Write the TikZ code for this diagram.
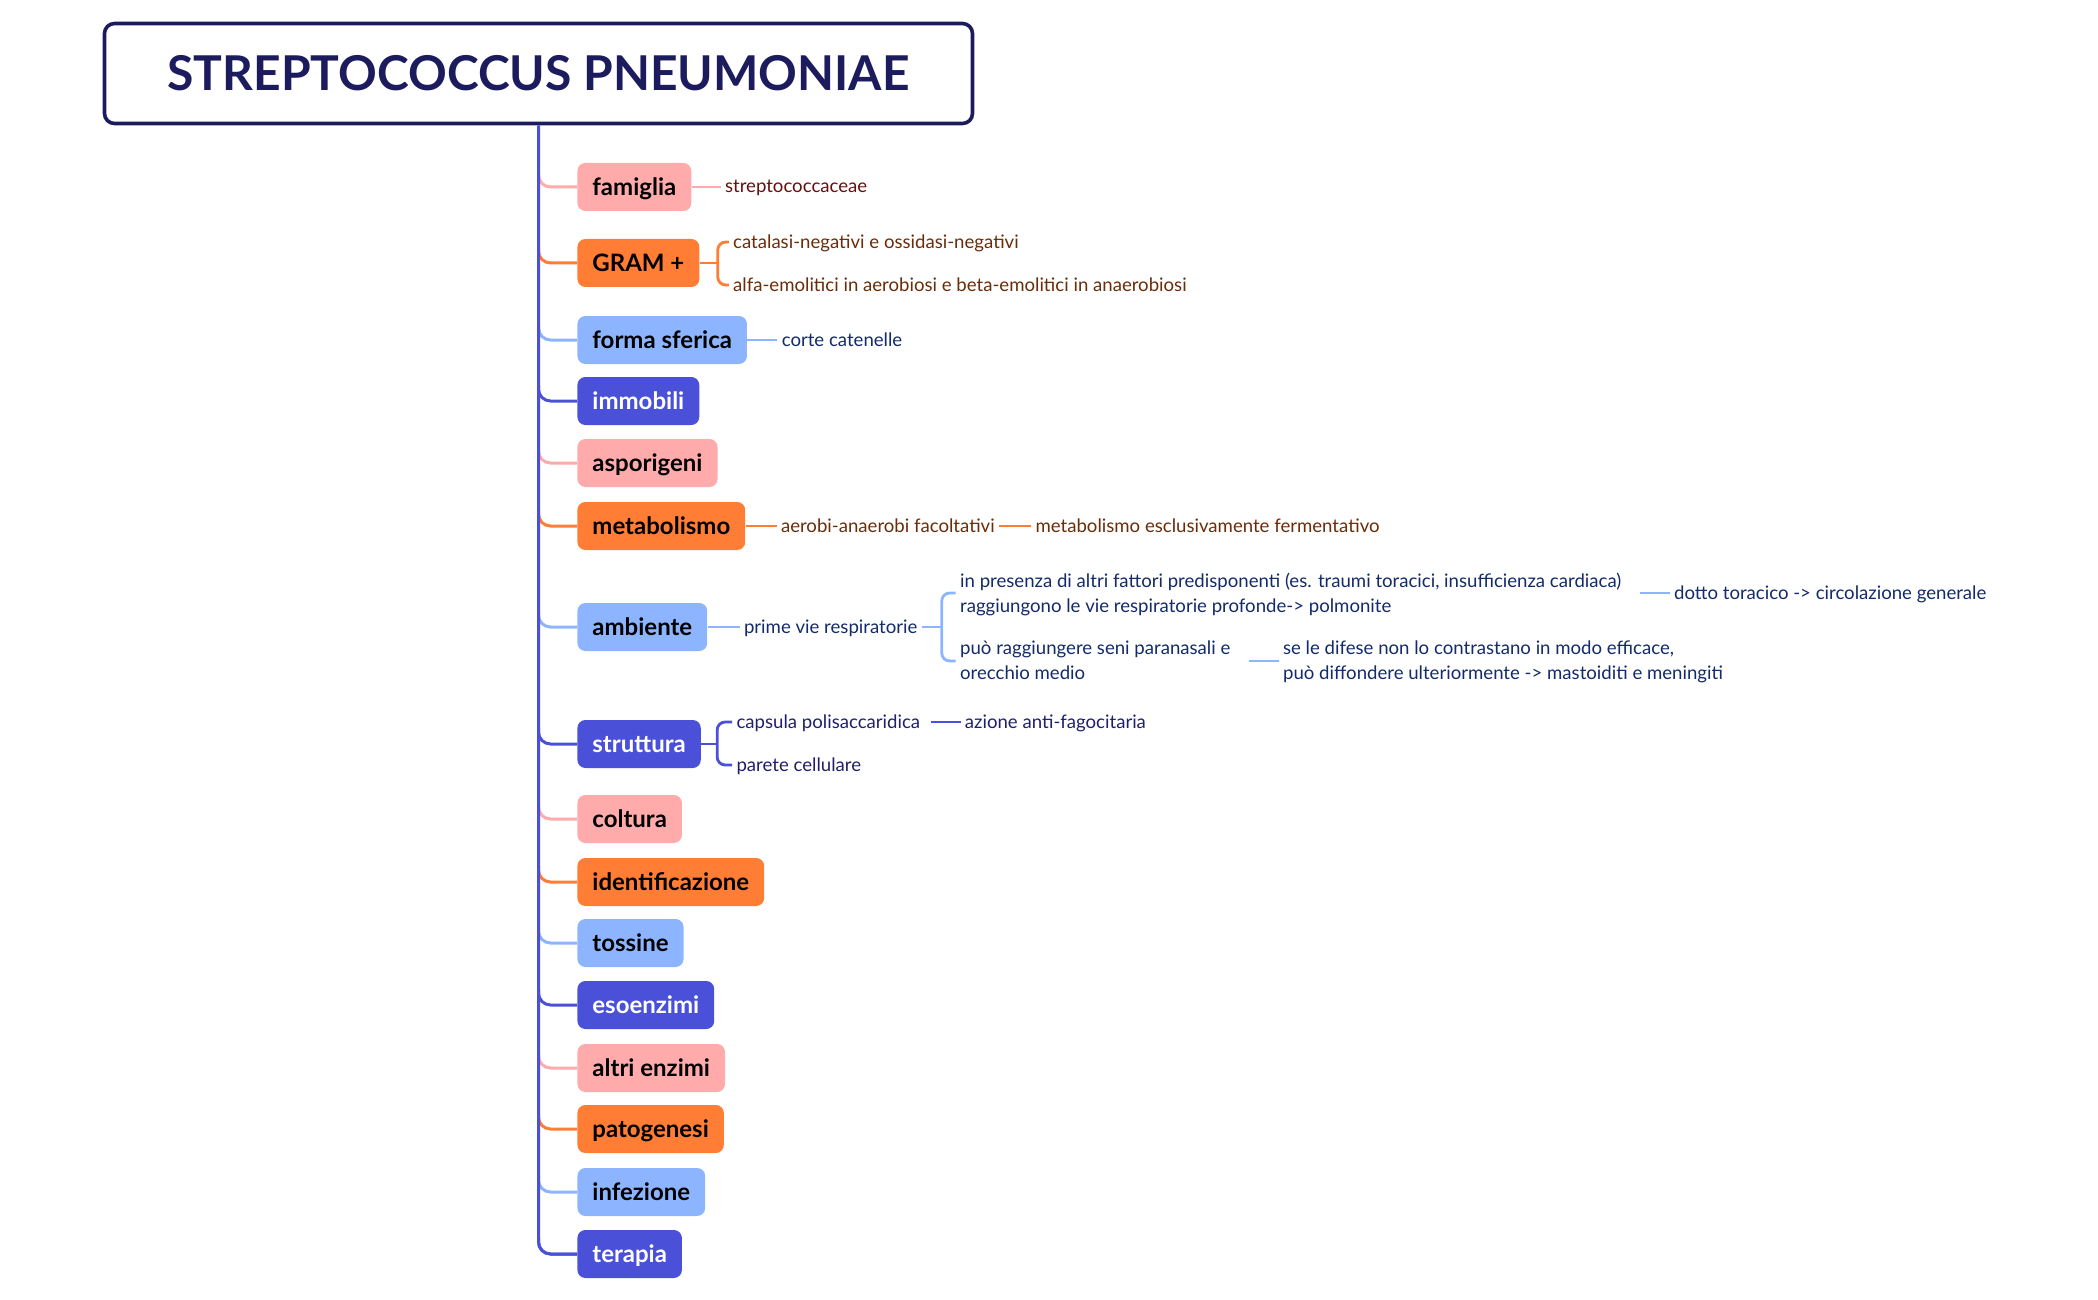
\documentclass[tikz,border=0pt]{standalone}
\usepackage{fontspec}
\setmainfont{Lato}
\usetikzlibrary{positioning}

\definecolor{navyline}{HTML}{1B1B5E}
\definecolor{pinkc}{HTML}{FFABAB}
\definecolor{orangec}{HTML}{FF7D35}
\definecolor{bluec}{HTML}{8DB5FF}
\definecolor{indigoc}{HTML}{4A51D8}
\definecolor{maroon}{HTML}{651010}
\definecolor{rust}{HTML}{6B2C08}
\definecolor{navy}{HTML}{132A6B}
\definecolor{ink}{HTML}{1F1F6B}

\begin{document}
\begin{tikzpicture}[x=0.5pt,y=-0.5pt,
    titlebox/.style={draw=navyline, line width=1.8pt, rounded corners=5pt,
      minimum width=434pt, minimum height=50pt, text=navyline,
      font=\fontsize{24}{28}\selectfont\bfseries},
    topic/.style={fill=#1, rounded corners=4pt, anchor=west, inner xsep=7.5pt,
      minimum height=24pt, text height=10.4pt, text depth=1.6pt,
      font=\fontsize{12}{14}\selectfont\bfseries},
    leaf/.style={text=#1, inner xsep=2pt, inner ysep=1pt, align=left,
      text depth=0.4pt, font=\fontsize{9.3}{12.5}\selectfont},
    branch/.style={draw=#1, line width=1.5pt, rounded corners=6pt},
    twig/.style={draw=#1, line width=1.4pt, rounded corners=4pt}]

  \useasboundingbox (0,0) rectangle (2098,1300);

  \node[titlebox] (title) at (538.5,73.5) {STREPTOCOCCUS PNEUMONIAE};

  % main topics on the trunk
  \foreach \n/\lbl/\col/\tc/\y in {fam/famiglia/pinkc/black/187,
      gram/GRAM +/orangec/black/263, forma/forma sferica/bluec/black/340,
      immob/immobili/indigoc/white/401, aspor/asporigeni/pinkc/black/463,
      metab/metabolismo/orangec/black/526, amb/ambiente/bluec/black/627,
      strut/struttura/indigoc/white/744, colt/coltura/pinkc/black/819,
      ident/identificazione/orangec/black/882, toss/tossine/bluec/black/943,
      esoenz/esoenzimi/indigoc/white/1005, altri/altri enzimi/pinkc/black/1068,
      patog/patogenesi/orangec/black/1129, infez/infezione/bluec/black/1192,
      ter/terapia/indigoc/white/1254}{
    \node[topic=\col, text=\tc] (\n) at (577,\y) {\lbl};
    \draw[branch=\col] (title.south |- \n.west) ++(0,-16) |- (\n.west);
  }
  \draw[branch=indigoc] (title.south) |- (ter.west);

  % famiglia
  \node[leaf=maroon, right=14.5pt of fam] (famA) {streptococcaceae};
  \draw[twig=pinkc] (fam) -- (famA);

  % GRAM +
  \node[leaf=rust, right=14.5pt of gram, yshift=10.5pt] (gramA) {catalasi-negativi e ossidasi-negativi};
  \node[leaf=rust, right=14.5pt of gram, yshift=-11pt] (gramB) {alfa-emolitici in aerobiosi e beta-emolitici in anaerobiosi};
  \draw[twig=orangec] (gram.east) -- ++(9pt,0) coordinate (gramfork);
  \draw[twig=orangec] (gramA.west) -| (gramfork) |- (gramB.west);

  % forma sferica
  \node[leaf=navy, right=15pt of forma] (formaA) {corte catenelle};
  \draw[twig=bluec] (forma) -- (formaA);

  % metabolismo
  \node[leaf=rust, right=15.5pt of metab] (metabA) {aerobi-anaerobi facoltativi};
  \node[leaf=rust, right=16pt of metabA] (metabB) {metabolismo esclusivamente fermentativo};
  \draw[twig=orangec] (metab) -- (metabA);
  \draw[twig=orangec] (metabA) -- (metabB);

  % ambiente
  \node[leaf=navy, right=16pt of amb] (ambA) {prime vie respiratorie};
  \draw[twig=bluec] (amb) -- (ambA);
  \node[leaf=navy, right=17pt of ambA, yshift=17pt] (ambB) {in presenza di altri fattori predisponenti (es. traumi toracici, insufficienza cardiaca)\\raggiungono le vie respiratorie profonde-> polmonite};
  \node[leaf=navy, right=17pt of ambA, yshift=-17pt] (ambC) {può raggiungere seni paranasali e\\orecchio medio};
  \draw[twig=bluec] (ambA.east) -- ++(10pt,0) coordinate (ambfork);
  \draw[twig=bluec] (ambB.west) -| (ambfork) |- (ambC.west);
  \node[leaf=navy, right=22pt of ambB] (ambD) {dotto toracico -> circolazione generale};
  \node[leaf=navy, right=22pt of ambC] (ambE) {se le difese non lo contrastano in modo efficace,\\può diffondere ulteriormente -> mastoiditi e meningiti};
  \draw[twig=bluec, shorten <=7pt] (ambB) -- (ambD);
  \draw[twig=bluec, shorten <=7pt] (ambC) -- (ambE);

  % struttura
  \node[leaf=ink, right=15.5pt of strut, yshift=11pt] (strutA) {capsula polisaccaridica};
  \node[leaf=ink, right=15.5pt of strut, yshift=-10.5pt] (strutB) {parete cellulare};
  \draw[twig=indigoc] (strut.east) -- ++(8pt,0) coordinate (strutfork);
  \draw[twig=indigoc] (strutA.west) -| (strutfork) |- (strutB.west);
  \node[leaf=ink, right=18pt of strutA] (strutC) {azione anti-fagocitaria};
  \draw[twig=indigoc, shorten <=3pt] (strutA) -- (strutC);
\end{tikzpicture}
\end{document}
